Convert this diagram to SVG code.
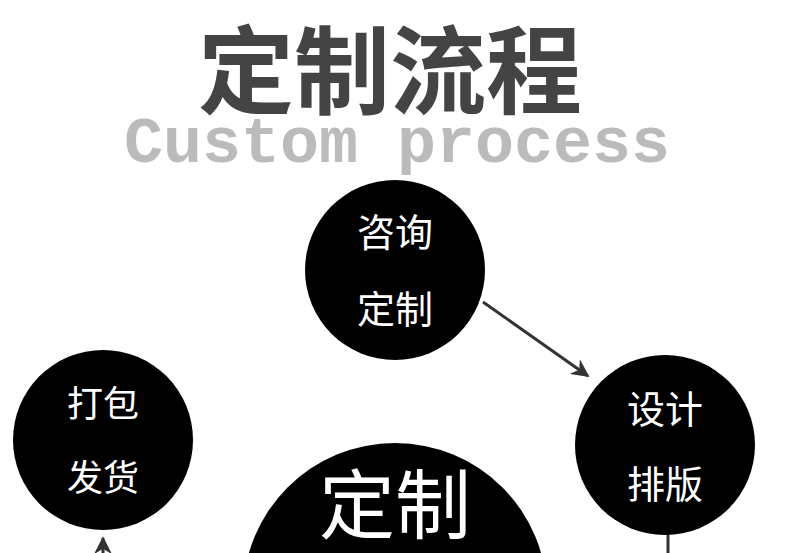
<svg xmlns="http://www.w3.org/2000/svg" width="790" height="553" viewBox="0 0 790 553">
<style>
.c{fill:#000}
.t{fill:#fff;font-family:"Noto Sans CJK SC","Noto Sans",sans-serif;text-anchor:middle}
</style>
<defs>
<marker id="ah" viewBox="0 0 10 10" refX="9" refY="5" markerWidth="6" markerHeight="6" orient="auto"><path d="M0,0L10,5L0,10L3,5z" fill="#333"/></marker>
</defs>
<rect width="790" height="553" fill="#fff"/>
<text x="390" y="106" font-size="96" font-weight="bold" fill="#444" text-anchor="middle" font-family="Noto Sans CJK SC,sans-serif">定制流程</text>
<text x="397" y="162" font-size="65" font-weight="bold" fill="#bbb" text-anchor="middle" font-family="Liberation Mono,monospace">Custom process</text>
<g id="connectors" stroke="#333" stroke-width="3" fill="none">
<line x1="483" y1="302" x2="588" y2="376" marker-end="url(#ah)"/>
<line x1="668" y1="530" x2="668" y2="553"/>
<line x1="103" y1="553" x2="103" y2="538" marker-end="url(#ah)"/>
</g>
<g id="n1"><circle class="c" cx="395" cy="270" r="90"/><text class="t" x="395" y="246" font-size="38">咨询</text><text class="t" x="395" y="323" font-size="38">定制</text></g>
<g id="n2"><circle class="c" cx="665" cy="445" r="90"/><text class="t" x="665" y="423" font-size="38">设计</text><text class="t" x="665" y="498" font-size="38">排版</text></g>
<g id="n3"><circle class="c" cx="103" cy="440" r="90"/><text class="t" x="103" y="417" font-size="36">打包</text><text class="t" x="103" y="491" font-size="36">发货</text></g>
<g id="n4"><circle class="c" cx="395" cy="595" r="152"/><text class="t" x="395" y="533" font-size="76">定制</text></g>
</svg>
